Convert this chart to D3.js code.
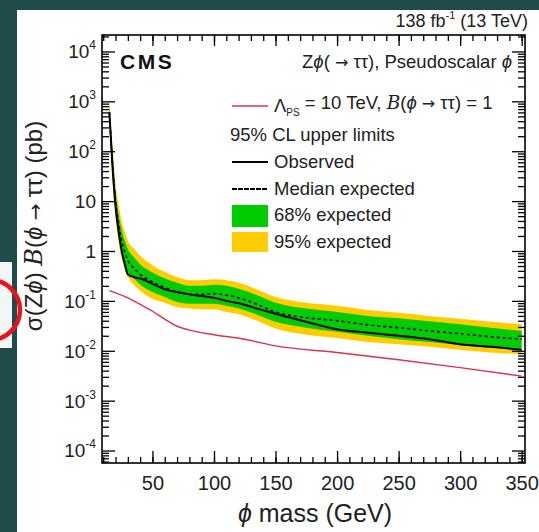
<!DOCTYPE html>
<html><head><meta charset="utf-8">
<script src="https://cdn.jsdelivr.net/npm/d3@7"></script>
<style>
body{margin:0;background:#1f4b4b;}
svg{display:block;font-family:"Liberation Sans",Arial,Helvetica,sans-serif;}
</style>
</head><body>
<svg id="c" width="539" height="532"></svg>
<script>
// ---------- data ----------
const mass     = [15, 17.5, 20, 22.5, 25, 27.5, 30, 35, 40, 50, 60, 70, 80, 90, 100, 110, 120, 135, 150, 175, 200, 225, 250, 275, 300, 325, 350];
const observed = [600, 50, 8, 2.5, 1.0, 0.55, 0.34, 0.3, 0.28, 0.22, 0.17, 0.15, 0.135, 0.125, 0.115, 0.1, 0.09, 0.07, 0.055, 0.038, 0.027, 0.023, 0.02, 0.017, 0.0135, 0.012, 0.0105];
const expected = [600, 60, 10, 3.5, 1.6, 0.95, 0.65, 0.45, 0.34, 0.24, 0.185, 0.15, 0.135, 0.135, 0.14, 0.13, 0.115, 0.085, 0.06, 0.046, 0.04, 0.033, 0.029, 0.025, 0.022, 0.019, 0.017];
const band68Lo = [400, 38, 6.2, 2.1, 0.95, 0.55, 0.38, 0.28, 0.21, 0.15, 0.12, 0.095, 0.088, 0.088, 0.088, 0.08, 0.07, 0.053, 0.038, 0.029, 0.024, 0.02, 0.017, 0.015, 0.013, 0.0115, 0.011];
const band68Hi = [900, 95, 16, 5.6, 2.6, 1.6, 1.1, 0.75, 0.54, 0.37, 0.28, 0.23, 0.2, 0.2, 0.21, 0.2, 0.175, 0.13, 0.092, 0.07, 0.06, 0.05, 0.045, 0.039, 0.034, 0.029, 0.025];
const band95Lo = [300, 28, 4.5, 1.5, 0.7, 0.42, 0.3, 0.21, 0.16, 0.11, 0.092, 0.075, 0.07, 0.068, 0.068, 0.06, 0.054, 0.04, 0.028, 0.021, 0.018, 0.015, 0.0135, 0.012, 0.0105, 0.0092, 0.0085];
const band95Hi = [1300, 130, 23, 8.5, 4.0, 2.4, 1.6, 1.1, 0.8, 0.52, 0.38, 0.3, 0.26, 0.26, 0.27, 0.26, 0.23, 0.17, 0.12, 0.092, 0.08, 0.066, 0.058, 0.05, 0.044, 0.038, 0.034];
const theoryMass = [15, 20, 30, 40, 50, 60, 70, 80, 100, 125, 150, 200, 250, 300, 350];
const theory     = [0.16, 0.145, 0.115, 0.085, 0.062, 0.043, 0.031, 0.026, 0.021, 0.017, 0.0125, 0.0092, 0.0066, 0.0046, 0.0031];

const xTicks = [50, 100, 150, 200, 250, 300, 350];
const xMinorTicks = d3.range(10, 351, 10);
const yTicks = [1e-4, 1e-3, 1e-2, 1e-1, 1, 10, 1e2, 1e3, 1e4];
const yTickBase = ["10", "10", "10", "10", "1", "10", "10", "10", "10"];
const yTickExp  = ["-4", "-3", "-2", "-1", "", "", "2", "3", "4"];

// ---------- layout ----------
const svg = d3.select("#c");
const L = 102, R = 525, T = 35, B = 463;
const x = d3.scaleLinear().domain([9, 352.7]).range([L, R]);
const y = d3.scaleLog().domain([Math.pow(10, -4.25), Math.pow(10, 4.33)]).range([B, T]);
const yMinorTicks = [];
for (let k = -5; k <= 4; k++) for (let j = 2; j <= 9; j++) {
  const v = j * Math.pow(10, k);
  if (v > y.domain()[0] && v < y.domain()[1]) yMinorTicks.push(v);
}

// photo background: teal border + white slide
svg.append("rect").attr("width", 539).attr("height", 532).attr("fill", "#1f4b4b");
svg.append("rect").attr("x", 17).attr("y", 10).attr("width", 522).attr("height", 522).attr("fill", "#ffffff");
svg.append("rect").attr("x", 0).attr("y", 262).attr("width", 12).attr("height", 86).attr("fill", "#f4f6f6");

// ---------- bands and lines ----------
const idx = d3.range(mass.length);
const area = (lo, hi) => d3.area().x(i => x(mass[i])).y0(i => y(lo[i])).y1(i => y(hi[i])).curve(d3.curveMonotoneX);
const line = (arr, m) => d3.line().x(i => x(m[i])).y(i => y(arr[i])).curve(d3.curveMonotoneX);

const plot = svg.append("g");
plot.append("path").attr("d", area(band95Lo, band95Hi)(idx)).attr("fill", "#ffcc00");
plot.append("path").attr("d", area(band68Lo, band68Hi)(idx)).attr("fill", "#00cc00");
plot.append("path").attr("d", line(expected, mass)(idx)).attr("fill", "none")
  .attr("stroke", "#000").attr("stroke-width", 1.6).attr("stroke-dasharray", "3,3");
plot.append("path").attr("d", line(observed, mass)(idx)).attr("fill", "none")
  .attr("stroke", "#000").attr("stroke-width", 2);
plot.append("path").attr("d", line(theory, theoryMass)(d3.range(theoryMass.length))).attr("fill", "none")
  .attr("stroke", "#e0304a").attr("stroke-width", 1.4);

// ---------- axes ----------
function styleAxis(g) {
  g.select(".domain").remove();
  g.selectAll(".tick line").attr("stroke", "#000").attr("stroke-width", 1.3);
}
// bottom
svg.append("g").attr("transform", `translate(0,${B})`)
  .call(d3.axisBottom(x).tickValues(xMinorTicks).tickSize(-6).tickFormat(""))
  .call(styleAxis);
svg.append("g").attr("transform", `translate(0,${B})`)
  .call(d3.axisBottom(x).tickValues(xTicks).tickSize(-12).tickPadding(13).tickFormat(d3.format("d")))
  .call(styleAxis)
  .call(g => g.selectAll(".tick text").attr("font-size", 20).attr("fill", "#222")
    .attr("font-family", "'Liberation Sans',Arial,sans-serif"));
// top
svg.append("g").attr("transform", `translate(0,${T})`)
  .call(d3.axisTop(x).tickValues(xMinorTicks).tickSize(-6).tickFormat(""))
  .call(styleAxis);
svg.append("g").attr("transform", `translate(0,${T})`)
  .call(d3.axisTop(x).tickValues(xTicks).tickSize(-11).tickFormat(""))
  .call(styleAxis);
// left
svg.append("g").attr("transform", `translate(${L},0)`)
  .call(d3.axisLeft(y).tickValues(yMinorTicks).tickSize(-7).tickFormat(""))
  .call(styleAxis);
const yAx = svg.append("g").attr("transform", `translate(${L},0)`)
  .call(d3.axisLeft(y).tickValues(yTicks).tickSize(-13).tickPadding(6).tickFormat(""))
  .call(styleAxis);
yAx.selectAll(".tick").each(function(d, i) {
  const t = d3.select(this).append("text").attr("x", -6).attr("y", 0).attr("dy", "0.34em")
    .attr("text-anchor", "end").attr("fill", "#222").attr("font-size", 19)
    .attr("font-family", "'Liberation Sans',Arial,sans-serif");
  t.append("tspan").text(yTickBase[i]);
  if (yTickExp[i]) t.append("tspan").attr("font-size", 12).attr("dy", "-0.75em").text(yTickExp[i]);
});
// right
svg.append("g").attr("transform", `translate(${R},0)`)
  .call(d3.axisRight(y).tickValues(yMinorTicks).tickSize(-7).tickFormat(""))
  .call(styleAxis);
svg.append("g").attr("transform", `translate(${R},0)`)
  .call(d3.axisRight(y).tickValues(yTicks).tickSize(-13).tickFormat(""))
  .call(styleAxis);

// frame
svg.append("rect").attr("x", L).attr("y", T).attr("width", R - L).attr("height", B - T)
  .attr("fill", "none").attr("stroke", "#000").attr("stroke-width", 1.6);

// ---------- texts ----------
const txt = (xx, yy, size, anchor) => svg.append("text").attr("x", xx).attr("y", yy)
  .attr("font-size", size).attr("text-anchor", anchor || "start").attr("fill", "#222");

// luminosity
const lum = txt(528, 27, 18, "end");
lum.append("tspan").text("138 fb");
lum.append("tspan").attr("font-size", 11).attr("dy", "-0.7em").text("-1");
lum.append("tspan").attr("dy", "0.45em").text(" (13 TeV)");

// CMS
txt(120, 69, 21).attr("font-weight", "bold").attr("letter-spacing", 2.5).attr("fill", "#111").text("CMS");

// process label
const proc = txt(512, 68, 18.5, "end");
proc.append("tspan").text("Z");
proc.append("tspan").attr("font-style", "italic").text("ϕ");
proc.append("tspan").text("(");
proc.append("tspan").attr("font-family", "'DejaVu Sans',sans-serif").attr("font-size", 16).text(" → ");
proc.append("tspan").text("ττ), Pseudoscalar ");
proc.append("tspan").attr("font-style", "italic").text("ϕ");

// legend
const lx0 = 232, lx1 = 268, tx = 274;
svg.append("line").attr("x1", lx0).attr("x2", lx1).attr("y1", 106).attr("y2", 106)
  .attr("stroke", "#e0304a").attr("stroke-width", 1.6);
const th = txt(tx, 112, 18.5);
th.append("tspan").text("Λ");
th.append("tspan").attr("font-size", 10).attr("dy", "0.35em").text("PS");
th.append("tspan").attr("dy", "-0.35em").text(" = 10 TeV, ");
th.append("tspan").attr("font-style", "italic").attr("font-family", "'DejaVu Serif',serif").text("B");
th.append("tspan").text("(");
th.append("tspan").attr("font-style", "italic").text("ϕ");
th.append("tspan").attr("font-family", "'DejaVu Sans',sans-serif").attr("font-size", 16).text(" → ");
th.append("tspan").text("ττ) = 1");

txt(230, 141, 18.5).text("95% CL upper limits");

svg.append("line").attr("x1", lx0).attr("x2", lx1).attr("y1", 162).attr("y2", 162)
  .attr("stroke", "#000").attr("stroke-width", 2);
txt(tx, 168, 18.5).text("Observed");

svg.append("line").attr("x1", lx0).attr("x2", lx1).attr("y1", 189).attr("y2", 189)
  .attr("stroke", "#000").attr("stroke-width", 1.8).attr("stroke-dasharray", "5,1");
txt(tx, 195, 18.5).text("Median expected");

svg.append("rect").attr("x", lx0).attr("y", 205).attr("width", lx1 - lx0).attr("height", 22).attr("fill", "#00cc00");
txt(tx, 221, 18.5).text("68% expected");
svg.append("rect").attr("x", lx0).attr("y", 232).attr("width", lx1 - lx0).attr("height", 20).attr("fill", "#ffcc00");
txt(tx, 248, 18.5).text("95% expected");

// x axis title
const xt = txt(315, 522, 25, "middle");
xt.append("tspan").attr("font-style", "italic").text("ϕ");
xt.append("tspan").text(" mass (GeV)");

// y axis title
const yt = svg.append("text").attr("transform", "translate(42,226) rotate(-90)")
  .attr("text-anchor", "middle").attr("font-size", 24).attr("fill", "#222");
yt.append("tspan").text("σ(Z");
yt.append("tspan").attr("font-style", "italic").text("ϕ");
yt.append("tspan").text(") ");
yt.append("tspan").attr("font-style", "italic").attr("font-family", "'DejaVu Serif',serif").text("B");
yt.append("tspan").text("(");
yt.append("tspan").attr("font-style", "italic").text("ϕ");
yt.append("tspan").attr("font-family", "'DejaVu Sans',sans-serif").attr("font-size", 20).text(" → ");
yt.append("tspan").text("ττ) (pb)");

// red annotation circle from the photo
svg.append("circle").attr("cx", -10).attr("cy", 310).attr("r", 30)
  .attr("fill", "none").attr("stroke", "#e8141c").attr("stroke-width", 4.5);
</script>
</body></html>
